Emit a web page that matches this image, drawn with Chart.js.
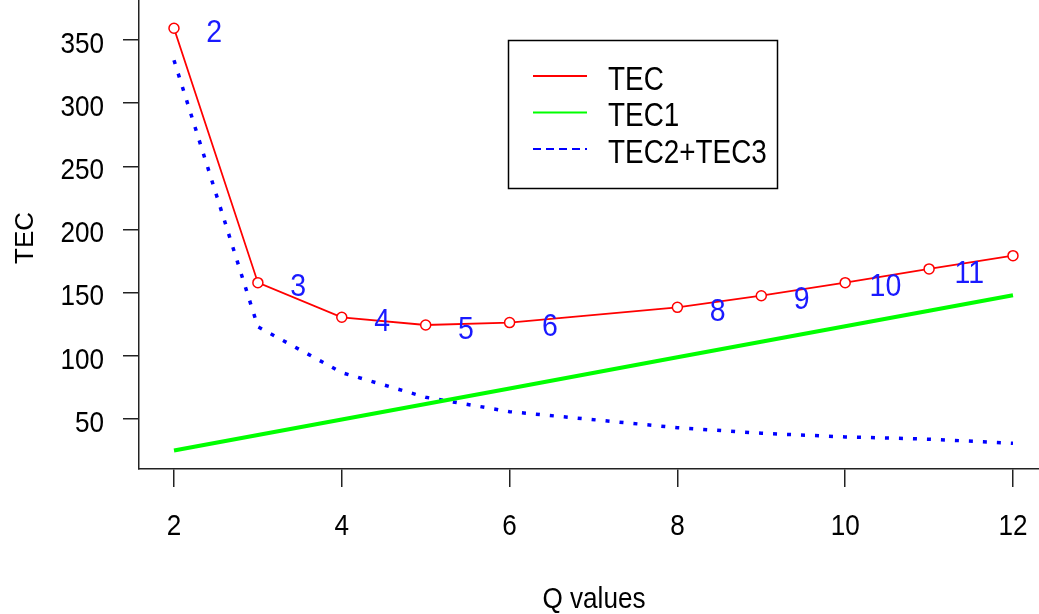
<!DOCTYPE html>
<html>
<head>
<meta charset="utf-8">
<script src="https://cdn.jsdelivr.net/npm/chart.js@4.4.0/dist/chart.umd.min.js"></script>
<style>
    html, body { margin: 0; padding: 0; background: #fff; overflow: hidden; }
    #caixa { width: 1039px; height: 614px; }
</style>
</head>
<body>
<div id="caixa"><canvas id="grafico"></canvas></div>
<script>
// dados (Q = 7 nao aparece)
const valoresQ = [2, 3, 4, 5, 6, 8, 9, 10, 11, 12];
const valoresTEC = [359.3, 157.9, 130.5, 124.4, 126.3, 138.4, 147.6, 157.9, 168.8, 179.3];
const valoresTEC1 = [25, 37.3, 49.6, 61.9, 74.2, 98.8, 111.1, 123.4, 135.7, 148];
const valoresTEC23 = [334, 123, 86.7, 67.2, 55.8, 43.1, 38.7, 35.8, 34.0, 30.8];
const rotulosPontos = ['2', '3', '4', '5', '6', '8', '9', '10', '11'];
const ticksX = [2, 4, 6, 8, 10, 12];
const ticksY = [50, 100, 150, 200, 250, 300, 350];

const fonte = '"Liberation Sans", Arial, sans-serif';

function pares(ys) {
    return valoresQ.map(function (q, i) { return { x: q, y: ys[i] }; });
}

// escreve texto com escala horizontal (o original tem letras mais estreitas)
function escreverTexto(ctx, texto, x, y, tamanho, cor, escalaX, alinhar, angulo) {
    ctx.save();
    ctx.translate(x, y);
    if (angulo) ctx.rotate(angulo);
    ctx.scale(escalaX, 1);
    ctx.font = tamanho + 'px ' + fonte;
    ctx.fillStyle = cor;
    ctx.textAlign = alinhar;
    ctx.textBaseline = 'alphabetic';
    ctx.fillText(texto, 0, 0);
    ctx.restore();
}

// textos dos eixos: numeros dos ticks e titulos
const textosEixos = {
    id: 'textosEixos',
    afterDraw(chart) {
        const ctx = chart.ctx;
        const sx = chart.scales.x;
        const sy = chart.scales.y;
        ticksX.forEach(function (v) {
            escreverTexto(ctx, String(v), sx.getPixelForValue(v), 535, 30, '#000', 0.87, 'center');
        });
        ticksY.forEach(function (v) {
            escreverTexto(ctx, String(v), 104, sy.getPixelForValue(v) + 2 + 0.358 * 30, 30, '#000', 0.87, 'right');
        });
        escreverTexto(ctx, 'Q values', 594, 598 + 0.358 * 29, 29, '#000', 0.9, 'center');
        escreverTexto(ctx, 'TEC', 24 + 0.358 * 26, 238, 26, '#000', 1, 'center', -Math.PI / 2);
    }
};

// numeros azuis ao lado de cada ponto do TEC
const rotulos = {
    id: 'rotulos',
    afterDatasetsDraw(chart) {
        const ctx = chart.ctx;
        const sx = chart.scales.x;
        const sy = chart.scales.y;
        rotulosPontos.forEach(function (txt, i) {
            const px = sx.getPixelForValue(valoresQ[i] + 0.48);
            const py = sy.getPixelForValue(valoresTEC[i]) + 2.5;
            escreverTexto(ctx, txt, px, py + 0.358 * 31, 31, '#1a1aff', 0.92, 'center');
        });
    }
};

// legenda com caixa, no estilo do R
const legenda = {
    id: 'legenda',
    afterDraw(chart) {
        const ctx = chart.ctx;
        ctx.save();
        ctx.strokeStyle = '#000';
        ctx.lineWidth = 1.5;
        ctx.strokeRect(508.5, 40.5, 269, 148);
        chart.data.datasets.forEach(function (ds, i) {
            const y = 76 + i * 36.5;
            ctx.beginPath();
            ctx.strokeStyle = ds.borderColor;
            ctx.lineWidth = 1.8;
            ctx.setLineDash(i == 2 ? [8, 5] : []);
            ctx.moveTo(533, y);
            ctx.lineTo(587, y);
            ctx.stroke();
            ctx.setLineDash([]);
            escreverTexto(ctx, ds.label, 608, y + 1.5 + 0.358 * 34, 34, '#000', 0.82, 'left');
        });
        ctx.restore();
    }
};

function semPadding(s) {
    s.paddingTop = 0;
    s.paddingBottom = 0;
    s.paddingLeft = 0;
    s.paddingRight = 0;
}

const ctx = document.getElementById('grafico').getContext('2d');

new Chart(ctx, {
    type: 'line',
    data: {
        datasets: [{
            label: 'TEC',
            data: pares(valoresTEC),
            borderColor: '#ff0000',
            borderWidth: 1.8,
            pointRadius: 5,
            pointBorderWidth: 1.5,
            pointBorderColor: '#ff0000',
            pointBackgroundColor: '#ffffff',
            tension: 0
        }, {
            label: 'TEC1',
            data: pares(valoresTEC1),
            borderColor: '#00ff00',
            borderWidth: 4,
            pointRadius: 0,
            tension: 0
        }, {
            label: 'TEC2+TEC3',
            data: pares(valoresTEC23),
            borderColor: '#0000ff',
            borderWidth: 3.5,
            borderDash: [4, 10],
            borderCapStyle: 'butt',
            pointRadius: 0,
            tension: 0
        }]
    },
    options: {
        responsive: true,
        maintainAspectRatio: false,
        animation: false,
        layout: { padding: 0, autoPadding: false },
        plugins: {
            legend: { display: false },
            tooltip: { enabled: false }
        },
        scales: {
            x: {
                type: 'linear',
                min: 1.583,
                max: 12.31,
                afterBuildTicks: function (s) { s.ticks = ticksX.map(function (v) { return { value: v }; }); },
                afterFit: function (s) { s.height = 145; semPadding(s); },
                grid: { display: true, drawOnChartArea: false, drawTicks: true, tickLength: 18, color: '#222', lineWidth: 1.5 },
                border: { display: true, color: '#222', width: 1.5 },
                ticks: { display: false }
            },
            y: {
                min: 10.4,
                max: 381.7,
                afterBuildTicks: function (s) { s.ticks = ticksY.map(function (v) { return { value: v }; }); },
                afterFit: function (s) { s.width = 139; semPadding(s); },
                grid: { display: true, drawOnChartArea: false, drawTicks: true, tickLength: 16, color: '#222', lineWidth: 1.5 },
                border: { display: true, color: '#222', width: 1.5 },
                ticks: { display: false }
            }
        }
    },
    plugins: [rotulos, legenda, textosEixos]
});
</script>
</body>
</html>
